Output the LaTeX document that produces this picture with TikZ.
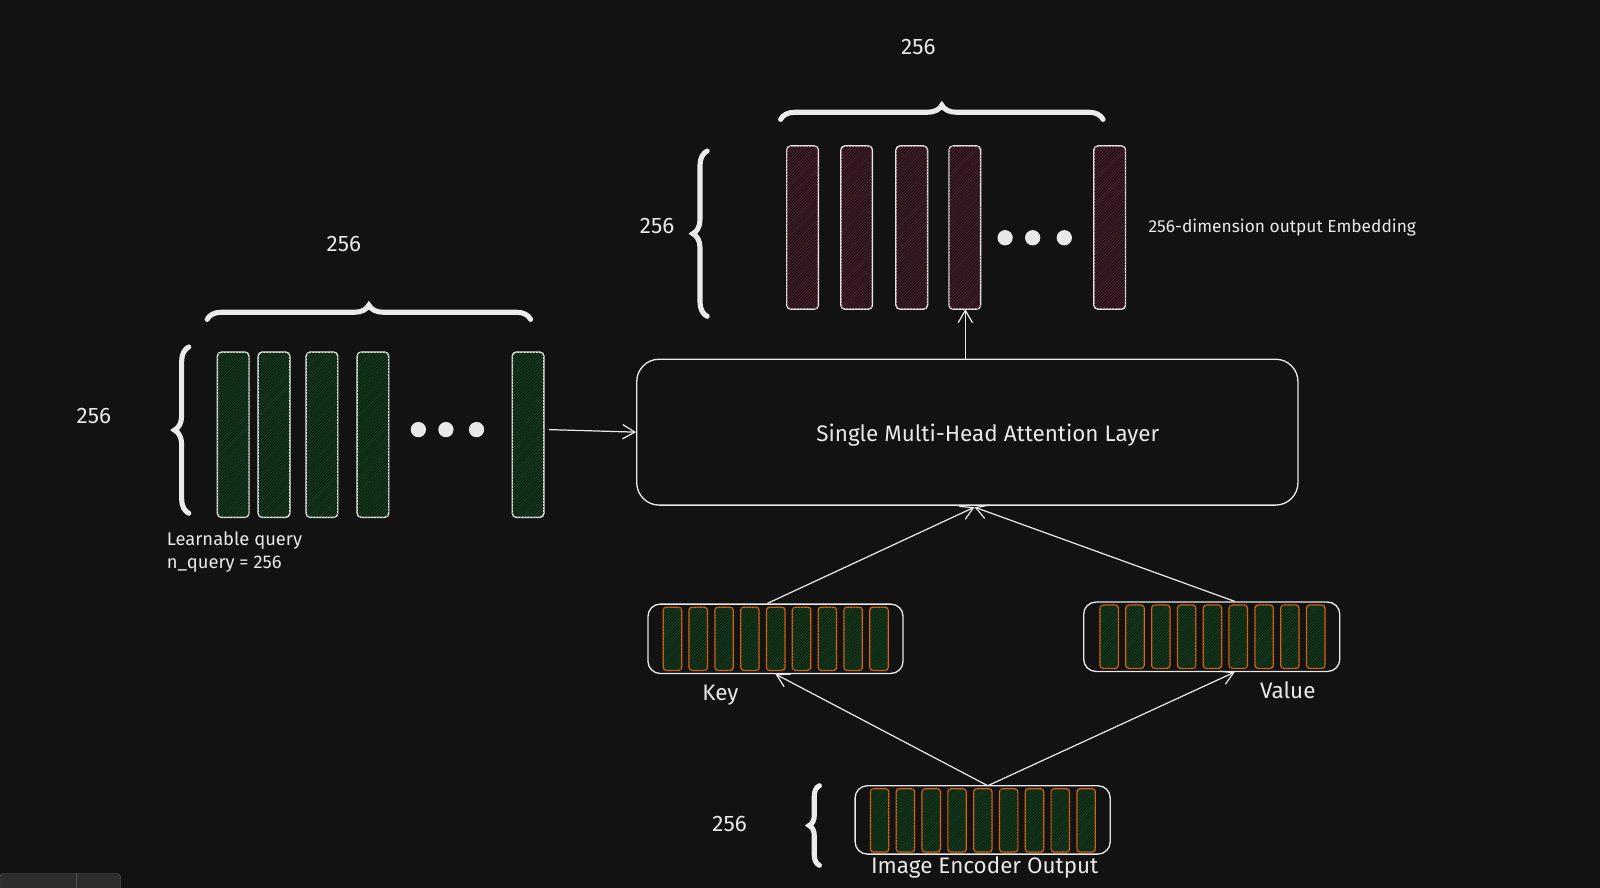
\documentclass[tikz,border=0pt]{standalone}
\usepackage{fontspec}
\setmainfont{Fira Sans}
\usetikzlibrary{patterns,arrows.meta,decorations.pathreplacing}
\definecolor{bg}{HTML}{121212}
\definecolor{gbar}{HTML}{0C2412}
\definecolor{rbar}{HTML}{24131A}
\definecolor{org}{HTML}{E8650F}
\definecolor{ln}{HTML}{E8E8E8}
\definecolor{ghatch}{HTML}{1F4A26}
\definecolor{rhatch}{HTML}{5A2630}
\tikzset{
  gq/.style={draw=ln, line width=1.4pt, rounded corners=4pt, fill=gbar, postaction={pattern=north east lines, pattern color=ghatch}},
  rq/.style={draw=ln, line width=1.4pt, rounded corners=4pt, fill=rbar, postaction={pattern=north east lines, pattern color=rhatch}},
  ob/.style={draw=org, line width=1.2pt, rounded corners=3pt, fill=gbar, postaction={pattern=north east lines, pattern color=ghatch}},
  holder/.style={draw=ln, line width=1.3pt, rounded corners=12pt},
  br/.style={draw=ln!85, line width=5pt, line cap=round, decorate, decoration={brace, amplitude=14pt}},
  arr/.style={draw=ln, line width=1.2pt, -{Straight Barb[length=12pt,width=14pt]}},
  lbl/.style={text=ln, font=\fontsize{22}{24}\selectfont},
  dot/.style={circle, fill=ln, inner sep=0pt, minimum size=15pt}
}
\begin{document}
\begin{tikzpicture}[x=1pt,y=-1pt]
\fill[bg] (0,0) rectangle (1568,870);
\useasboundingbox (0,0) rectangle (1568,870);
\draw[ln!30!bg, fill=ln!12!bg, rounded corners=3pt] (0,856) rectangle (118,875);
\draw[ln!30!bg] (75,856) -- (75,870);
% learnable query
\foreach \x/\n in {213/q1,253/q2,300/q3,350/q4,502/q5}
  \draw[gq] (\x,345) rectangle ++(31,162) coordinate (\n);
\foreach \x/\n in {410/qd1,437/qd2,467/qd3} \node[dot] (\n) at (\x,421) {};
\coordinate (qbl) at (185,503); \coordinate (qtl) at (185,340);
\draw[br] (qbl) -- (qtl);
\node[lbl] (q256a) at (92,408) {256};
\coordinate (qhl) at (203,313); \coordinate (qhr) at (520,313);
\draw[br] (qhl) -- (qhr);
\node[lbl] (q256b) at (337,239) {256};
\node[lbl, anchor=west, font=\fontsize{18}{20}\selectfont] (lq1) at (160,530) {Learnable query};
\node[lbl, anchor=west, font=\fontsize{18}{20}\selectfont] (lq2) at (160,553) {n\_query = 256};
% attention
\node[holder, minimum width=648pt, minimum height=143pt, rounded corners=22pt] (att) at (948,423.5) {};
\node[lbl] (attl) at (968,426) {Single Multi-Head Attention Layer};
\coordinate (qout) at (538,421);
\draw[arr] (qout) -- (att.west);
% output embedding
\foreach \x/\n in {771/o1,824/o2,878/o3,930/o4,1072/o5}
  \draw[rq] (\x,143) rectangle ++(31,160) coordinate (\n);
\foreach \x/\n in {985/od1,1012/od2,1043/od3} \node[dot] (\n) at (\x,233) {};
\coordinate (obl) at (693,310); \coordinate (otl) at (693,148);
\draw[br] (obl) -- (otl);
\node[lbl] (o256a) at (644,221) {256};
\coordinate (ohl) at (765,117); \coordinate (ohr) at (1081,117);
\draw[br] (ohl) -- (ohr);
\node[lbl] (o256b) at (900,46) {256};
\node[lbl, anchor=west, font=\fontsize{17}{20}\selectfont] (oemb) at (1122,223) {256-dimension output Embedding};
\coordinate (otop) at (946,303);
\draw[arr] (att.north -| otop) -- (otop);
% key / value
\node[holder, minimum width=250pt, minimum height=68pt] (key) at (760,626) {};
\node[holder, minimum width=251pt, minimum height=68pt] (val) at (1187.5,624) {};
\node[holder, minimum width=250pt, minimum height=67pt] (enc) at (963,803.5) {};
\foreach \i in {0,...,8} {
  \draw[ob] (650+\i*25.3,595) rectangle ++(18,62);
  \draw[ob] (1078+\i*25.3,593) rectangle ++(18,62);
  \draw[ob] (853+\i*25.3,773) rectangle ++(18,62);
}
\node[lbl] (keyl) at (706,681) {Key};
\node[lbl] (vall) at (1262,676) {Value};
\node[lbl] (encl) at (965,850) {Image Encoder Output};
\coordinate (eb1) at (803,848); \coordinate (eb2) at (803,770);
\draw[br, decoration={brace, amplitude=10pt}] (eb1) -- (eb2);
\node[lbl] (e256) at (715,808) {256};
\coordinate (katt) at (955,497);
\draw[arr] (key.north -| 752,0) -- (katt);
\draw[arr] (val.north -| 1210,0) -- (katt);
\coordinate (etop) at (968,770);
\draw[arr] (etop) -- (key.south);
\draw[arr] (etop) -- (val.south -| 1210,0);
\end{tikzpicture}
\end{document}
